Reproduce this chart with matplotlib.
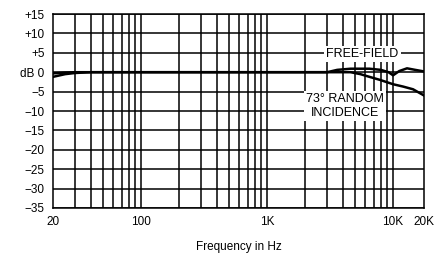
import numpy as np
import matplotlib
matplotlib.use('Agg')
import matplotlib.pyplot as plt
from matplotlib.ticker import FixedLocator, NullLocator

plt.rcParams['font.family'] = ['Liberation Sans Narrow', 'Liberation Sans', 'DejaVu Sans']

# Response curves (Hz, dB)
free_field_hz = [20, 25, 30, 40, 100, 1000, 3000, 3600, 4600, 6500, 8000, 9200, 10000, 11200, 12900, 15000, 17600]
free_field_db = [-0.3, -0.1, 0.0, 0.0, 0.0, 0.0, 0.0, 0.6, 0.9, 0.9, 0.6, 0.0, -0.8, 0.3, 1.0, 0.6, 0.2]

random_hz = [20, 25, 30, 40, 100, 1000, 3000, 4600, 5500, 6500, 7900, 10000, 12000, 14400, 17600]
random_db = [-1.2, -0.5, -0.2, 0.0, 0.0, 0.0, 0.0, 0.0, -0.5, -1.2, -2.0, -3.1, -3.7, -4.4, -6.0]

# Grid / ticks
x_grid = [30, 40, 50, 60, 70, 80, 90, 100, 200, 300, 400, 500, 600, 700, 800, 900,
          1000, 2000, 3000, 4000, 5000, 6000, 7000, 8000, 9000, 10000]
x_label_pos = [20, 100, 1000, 10000, 17600]
x_labels = ['20', '100', '1K', '10K', '20K']
y_ticks = [-35, -30, -25, -20, -15, -10, -5, 0, 5, 10, 15]
y_labels = ['\u221235', '\u221230', '\u221225', '\u221220', '\u221215', '\u221210', '\u22125',
            'dB 0', '+5', '+10', '+15']

fig = plt.figure(figsize=(4.46, 2.56), dpi=100)
ax = fig.add_axes([0.1188, 0.1875, 0.8319, 0.7578])

ax.set_xscale('log')
ax.set_xlim(20, 17600)
ax.set_ylim(-35, 15)

for xg in x_grid:
    ax.axvline(xg, color='black', lw=1.1, zorder=1)
for yg in y_ticks:
    ax.axhline(yg, color='black', lw=1.1, zorder=1)

ax.plot(free_field_hz, free_field_db, color='black', lw=1.8, zorder=3)
ax.plot(random_hz, random_db, color='black', lw=1.8, zorder=3)

ax.xaxis.set_major_locator(FixedLocator(x_label_pos))
ax.xaxis.set_minor_locator(NullLocator())
ax.set_xticklabels(x_labels)
ax.set_yticks(y_ticks)
ax.set_yticklabels(y_labels)
ax.tick_params(axis='both', length=0, labelsize=8.5, colors='black')
ax.tick_params(axis='x', pad=6)
ax.tick_params(axis='y', pad=6)

for s in ax.spines.values():
    s.set_linewidth(1.1)

ax.set_xlabel('Frequency in Hz', fontsize=8.5, labelpad=9)

ax.text(5700, 4.6, 'FREE-FIELD', fontsize=9, ha='center', va='center', zorder=4,
        bbox=dict(facecolor='white', edgecolor='none', pad=1.5))
ax.text(4150, -8.7, '73\u00b0 RANDOM\nINCIDENCE', fontsize=9, ha='center', va='center',
        linespacing=1.25, zorder=4,
        bbox=dict(facecolor='white', edgecolor='none', pad=1.5))

fig.savefig('out.png', dpi=100)
